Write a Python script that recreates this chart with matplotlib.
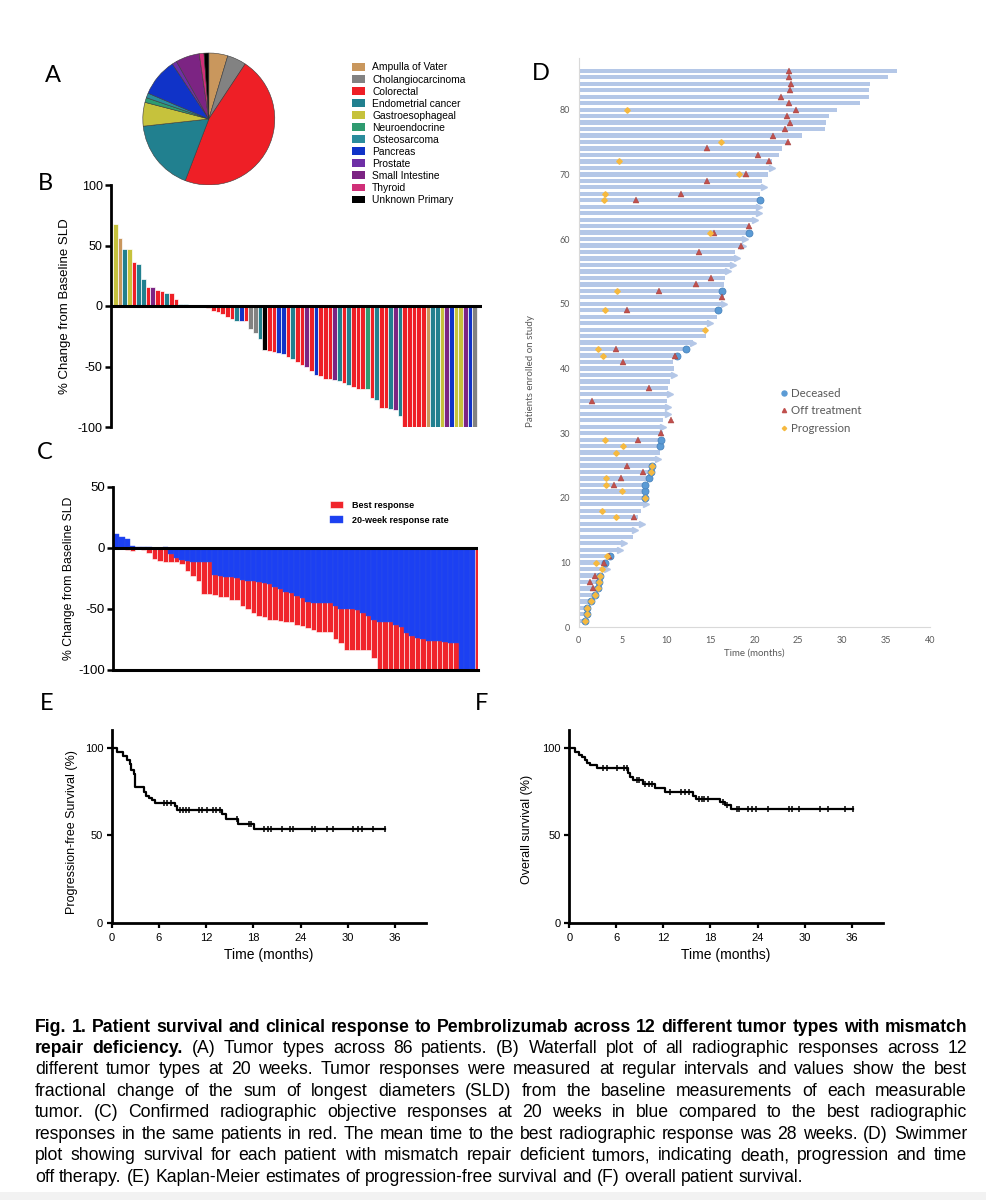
"""Pembrolizumab in mismatch-repair deficient tumours: six-panel summary figure.

A: tumour mix (pie), B: waterfall by tumour type, C: best vs 20-week response,
D: swimmer plot, E/F: Kaplan-Meier progression-free and overall survival.
"""

import matplotlib
matplotlib.use("Agg")
import matplotlib.pyplot as plt
import numpy as np
from matplotlib import font_manager
from matplotlib.lines import Line2D
from matplotlib.patches import Patch, Rectangle

FIG_W, FIG_H = 987, 1200  # pixels, saved at dpi=100

# ---------------------------------------------------------------- panel A
TUMOR_TYPES = ["Ampulla of Vater", "Cholangiocarcinoma", "Colorectal",
               "Endometrial cancer", "Gastroesophageal", "Neuroendocrine",
               "Osteosarcoma", "Pancreas", "Prostate", "Small Intestine",
               "Thyroid", "Unknown Primary"]
TUMOR_CODES = ["AV", "CH", "CR", "EN", "GE", "NE", "OS", "PA", "PR", "SI", "TH", "UP"]
TUMOR_COUNTS = [4, 4, 40, 15, 5, 1, 1, 8, 1, 5, 1, 1]
TUMOR_COLORS = ["#C9975D", "#828282", "#EE1F26", "#21808F", "#C6C23C", "#2F9B70",
                "#2A8C9C", "#1033C8", "#6E2FA6", "#7C2483", "#D02F78", "#000000"]

# ---------------------------------------------------------------- panel B
WATERFALL_TYPE = ["GE", "AV", "EN", "GE", "CR", "EN", "EN", "CR", "SI", "CR",
                  "CR", "EN", "CR", "CR", "EN", "EN", "CR", "CR", "CR", "EN",
                  "CR", "CR", "CR", "CR", "CR", "CR", "EN", "PA", "CR", "CH",
                  "CH", "EN", "UP", "CR", "CR", "PA", "PA", "CR", "EN", "CR",
                  "CR", "SI", "CR", "PA", "CR", "CR", "CR", "SI", "EN", "CR",
                  "EN", "CR", "CR", "CR", "NE", "CR", "EN", "CR", "CR", "EN",
                  "SI", "EN", "CR", "CR", "CR", "CR", "CR", "AV", "EN", "EN",
                  "GE", "SI", "PA", "GE", "GE", "SI", "PA", "CH"]
WATERFALL_PCT = [68, 56, 47, 47, 36, 35, 22, 16, 16, 13,
                 12, 11, 11, 6, 2, 1.5, 1, 1, -1, -0.5,
                 -1.5, -4, -5, -7, -9, -11, -12, -12, -12, -19,
                 -22, -27, -36, -37, -38, -39, -40, -42, -44, -46.5,
                 -48.5, -50, -54, -57, -58, -60, -60, -61, -62, -64,
                 -65, -67, -69, -69, -69, -76, -78, -84.5, -84.5, -85,
                 -86, -91, -100, -100, -100, -100, -100, -100, -100, -100,
                 -100, -100, -100, -100, -100, -100, -100, -100]

# ---------------------------------------------------------------- panel C
BEST_RESPONSE_PCT = [-1, -1, -2, -3, -1, -2, -4, -9, -11, -12,
                     -12, -12, -13, -19, -23, -27, -38, -38, -39, -40,
                     -40, -43, -43, -48, -50, -53, -56, -57, -59, -59,
                     -60, -61, -61, -63, -64, -66, -67.6, -69, -69, -69,
                     -75, -78, -84, -84, -84, -84, -84, -90, -100, -100,
                     -100, -100, -100, -100, -100, -100, -100, -100, -100, -100,
                     -100, -100, -100, -100, -100, -100, -100]
WEEK20_RESPONSE_PCT = [11, 9, 7, 1.5, 1, 1, 0.5, 0, 0, 1,
                       -5, -8, -10, -11, -12, -12, -12, -12, -22, -23,
                       -24, -24, -25, -26, -27, -27, -28, -29, -30, -32,
                       -34, -36, -37, -39.5, -41, -44, -45.5, -45.5, -45.5, -45.5,
                       -48, -50, -50, -50, -51, -53.7, -56, -59, -61, -61,
                       -61, -63, -64.6, -70, -72, -74, -74.7, -76, -76, -76.5,
                       -77.4, -78, -78, -100, -100, -100, 0]

# ---------------------------------------------------------------- panel D
SWIM_MONTHS = [0.8, 0.95, 1.05, 1.4, 1.9, 2.2, 2.35, 2.5, 3.2, 3.1,
               3.6, 4.7, 5.2, 6.2, 6.4, 7.2, 6.8, 7.1, 7.7, 7.65,
               7.6, 7.6, 8.0, 8.3, 8.4, 9.0, 9.3, 9.35, 9.35, 9.55,
               9.6, 9.6, 10.2, 10.2, 10.1, 10.4, 10.15, 10.4, 10.85, 10.85,
               10.7, 11.0, 12.1, 13.05, 14.5, 14.6, 15.0, 15.7, 15.9, 16.5,
               16.5, 16.5, 16.5, 16.7, 17.0, 17.6, 18.0, 17.8, 18.75, 18.9,
               19.5, 19.5, 20.1, 20.5, 20.5, 20.65, 20.7, 21.1, 20.9, 21.5,
               22.0, 22.0, 22.8, 23.2, 23.7, 25.4, 28.0, 28.2, 28.5, 29.4,
               32.0, 33.0, 33.0, 33.2, 35.2, 36.2]
ONGOING_PATIENTS = [9, 12, 13, 15, 16, 19, 26, 31, 33, 34, 36, 39, 44, 47, 50,
                    55, 56, 57, 59, 60, 63, 64, 65, 68, 71]
DECEASED_PATIENT = [1, 2, 3, 4, 5, 6, 7, 8, 10, 11, 20, 21, 22, 23, 24, 25,
                    28, 29, 42, 43, 49, 52, 61, 66]
DECEASED_MONTH = [0.7, 0.9, 1.0, 1.35, 1.85, 2.15, 2.3, 2.45, 3.05, 3.55, 7.6, 7.6,
                  7.6, 8.0, 8.2, 8.4, 9.3, 9.35, 11.15, 12.2, 15.85, 16.3, 19.4, 20.7]
OFF_TX_PATIENT = [6, 7, 8, 10, 11, 17, 22, 23, 24, 25, 29, 30, 32, 35, 37, 41,
                  42, 43, 49, 51, 52, 53, 54, 58, 59, 61, 62, 66, 67, 69, 70,
                  72, 73, 74, 75, 76, 77, 78, 79, 80, 81, 82, 83, 84, 85, 86]
OFF_TX_MONTH = [1.6, 1.3, 1.85, 2.9, 3.4, 6.3, 4.0, 4.85, 7.3, 5.5, 6.8, 9.4,
                10.55, 1.55, 8.0, 5.1, 11.0, 4.25, 5.5, 16.3, 9.2, 13.3, 15.1,
                13.65, 18.45, 15.4, 19.4, 6.5, 11.65, 14.6, 19.0, 21.7, 20.4,
                14.6, 23.8, 22.1, 23.5, 24.1, 23.7, 24.7, 24.0, 23.0, 24.1,
                24.2, 24.0, 23.9]
PROGRESSION_PATIENT = [1, 2, 3, 4, 5, 6, 7, 8, 9, 10, 11, 17, 18, 20, 21, 22,
                       23, 24, 25, 27, 28, 29, 42, 43, 46, 49, 52, 61, 66, 67,
                       70, 72, 75, 80]
PROGRESSION_MONTH = [0.7, 0.9, 1.0, 1.35, 1.85, 2.15, 2.3, 2.45, 2.7, 2.0, 3.25,
                     4.2, 2.6, 7.6, 4.9, 3.1, 3.1, 8.2, 8.4, 4.25, 5.1, 3.0,
                     2.8, 2.15, 14.4, 2.95, 4.35, 14.95, 2.85, 2.95, 18.25, 4.6,
                     16.2, 5.5]

# ---------------------------------------------------------------- panels E, F
PFS_MONTHS = [0, 0.7, 1.4, 2.0, 2.3, 2.5, 2.8, 3.0, 4.1, 4.4, 4.8, 5.1, 5.5,
              8.0, 8.3, 14.0, 14.5, 16.0, 18.1]
PFS_PCT = [100, 97.6, 95.3, 93.0, 90.7, 87.2, 84.9, 77.3, 74.9, 72.6, 71.4,
           70.2, 68.7, 66.6, 64.4, 62.0, 59.3, 56.6, 53.6]
PFS_LAST_MONTH = 34.7
PFS_CENSOR = [6.6, 7.0, 7.6, 8.7, 9.1, 9.5, 9.8, 11.1, 11.5, 12.1, 12.9, 13.3,
              13.8, 15.9, 17.4, 17.7, 19.3, 19.9, 20.2, 21.7, 22.7, 23.1, 25.4,
              25.8, 27.4, 28.1, 30.7, 31.3, 31.8, 33.2, 34.7]

OS_MONTHS = [0, 0.7, 1.2, 1.6, 2.0, 2.3, 2.6, 3.5, 7.5, 7.8, 8.1, 9.4, 10.9,
             12.2, 15.8, 16.2, 19.2, 19.8, 20.6]
OS_PCT = [100, 97.3, 96.0, 94.6, 93.2, 91.0, 89.8, 88.6, 85.7, 83.4, 81.3,
          79.0, 76.8, 74.9, 72.4, 71.0, 69.0, 67.2, 64.8]
OS_LAST_MONTH = 36.2
OS_CENSOR = [4.3, 4.8, 6.1, 7.0, 7.3, 8.6, 8.9, 9.7, 10.1, 10.5, 12.8, 14.2,
             14.8, 15.3, 16.5, 16.9, 17.2, 17.7, 19.6, 20.1, 21.4, 21.7, 22.8,
             23.3, 23.8, 25.4, 28.0, 28.4, 29.3, 32.0, 33.0, 35.2, 36.2]

CAPTION_LINES = [
    "Fig. 1. Patient survival and clinical response to Pembrolizumab across 12 different tumor types with mismatch",
    "repair deficiency. (A) Tumor types across 86 patients. (B) Waterfall plot of all radiographic responses across 12",
    "different tumor types at 20 weeks. Tumor responses were measured at regular intervals and values show the best",
    "fractional change of the sum of longest diameters (SLD) from the baseline measurements of each measurable",
    "tumor. (C) Confirmed radiographic objective responses at 20 weeks in blue compared to the best radiographic",
    "responses in the same patients in red. The mean time to the best radiographic response was 28 weeks. (D) Swimmer",
    "plot showing survival for each patient with mismatch repair deficient tumors, indicating death, progression and time",
    "off therapy. (E) Kaplan-Meier estimates of progression-free survival and (F) overall patient survival.",
]
CAPTION_BOLD_WORDS = [16, 2, 0, 0, 0, 0, 0, 0]

SWIM_BLUE = "#B4C7E7"
D_GREY = "#595959"

plt.rcParams["font.family"] = ["Liberation Sans", "DejaVu Sans"]
plt.rcParams["axes.unicode_minus"] = False
_installed = {f.name for f in font_manager.fontManager.ttflist}
CAPTION_FONT = "Liberation Sans Narrow" if "Liberation Sans Narrow" in _installed else "Liberation Sans"
LETTER_FONT = ["Lato", "DejaVu Sans"]


def axes_px(fig, left, top, right, bottom):
    """Add axes from pixel box (origin top-left)."""
    return fig.add_axes([left / FIG_W, 1 - bottom / FIG_H,
                         (right - left) / FIG_W, (bottom - top) / FIG_H])


def _prism_axes(ax, width=2.0):
    for side in ("top", "right", "bottom"):
        ax.spines[side].set_visible(False)
    ax.spines["left"].set_linewidth(width)


def plot_waterfall(fig):
    ax = axes_px(fig, 111, 185, 482, 427)
    colour_of = dict(zip(TUMOR_CODES, TUMOR_COLORS))
    x = np.arange(len(WATERFALL_PCT))
    ax.bar(x, WATERFALL_PCT, width=1.0, color=[colour_of[c] for c in WATERFALL_TYPE],
           edgecolor="white", linewidth=0.5)
    ax.axhline(0, color="black", lw=2.2, zorder=3)
    ax.set_xlim(-0.93, 78.57)
    ax.set_ylim(-100, 100)
    _prism_axes(ax)
    ax.set_xticks([])
    ax.set_yticks([-100, -50, 0, 50, 100])
    ax.tick_params(axis="y", length=4, width=1.8, pad=2, labelsize=9)
    ax.set_ylabel("% Change from Baseline SLD", fontsize=9.5)
    ax.yaxis.set_label_coords(-0.108, 0.5)


def plot_best_vs_week20(fig):
    ax = axes_px(fig, 113, 486.7, 478, 670)
    x = np.arange(len(BEST_RESPONSE_PCT))
    ax.bar(x, BEST_RESPONSE_PCT, width=1.0, color="#F0252B", edgecolor="white",
           linewidth=0.4, label="Best response")
    ax.bar(x, WEEK20_RESPONSE_PCT, width=1.0, color="#1C40F2", edgecolor="#2E50E8",
           linewidth=0.3, label="20-week response rate")
    ax.axhline(0, color="black", lw=2.2, zorder=3)
    ax.set_xlim(-0.6, 66.0)
    ax.set_ylim(-100, 50)
    for side in ("top", "right"):
        ax.spines[side].set_visible(False)
    ax.spines["left"].set_linewidth(2)
    ax.spines["bottom"].set_linewidth(2.2)
    ax.set_xticks([])
    ax.set_yticks([-100, -50, 0, 50])
    ax.tick_params(axis="y", length=4, width=1.8, pad=2, labelsize=9.5)
    ax.set_ylabel("% Change from Baseline SLD", fontsize=8.8)
    ax.yaxis.set_label_coords(-0.104, 0.5)
    leg = ax.legend(loc="upper left", bbox_to_anchor=(330 / FIG_W, 1 - 501 / FIG_H),
                    bbox_transform=fig.transFigure, frameon=False, fontsize=6.5,
                    handlelength=1.45, handleheight=0.77, handletextpad=1.0,
                    labelspacing=0.65, borderpad=0, borderaxespad=0)
    for t in leg.get_texts():
        t.set_fontweight("bold")


def plot_swimmer(fig):
    ax = axes_px(fig, 578.7, 57.9, 930, 627.3)
    patients = np.arange(1, len(SWIM_MONTHS) + 1)
    months = np.asarray(SWIM_MONTHS)
    ax.barh(patients, months, height=0.66, color=SWIM_BLUE, zorder=1)
    ongoing = np.asarray(ONGOING_PATIENTS)
    ax.plot(months[ongoing - 1], ongoing, ls="none", marker=">", ms=4.2,
            color=SWIM_BLUE, mec=SWIM_BLUE, zorder=1)
    ax.plot(DECEASED_MONTH, DECEASED_PATIENT, ls="none", marker="o", ms=5,
            color="#5B9BD5", mec="#4A84BD", mew=0.6, zorder=2)
    ax.plot(OFF_TX_MONTH, OFF_TX_PATIENT, ls="none", marker="^", ms=3.8,
            color="#C0504D", mec="#A0403D", mew=0.3, zorder=3)
    ax.plot(PROGRESSION_MONTH, PROGRESSION_PATIENT, ls="none", marker="D", ms=2.8,
            color="#F6B93F", mec="#F6B93F", zorder=4)

    ax.set_xlim(0, 40)
    ax.set_ylim(0, 88)
    ax.set_xticks(np.arange(0, 41, 5))
    ax.set_yticks(np.arange(0, 81, 10))
    for side in ("top", "right"):
        ax.spines[side].set_visible(False)
    for side in ("left", "bottom"):
        ax.spines[side].set_color("#D9D9D9")
        ax.spines[side].set_linewidth(0.8)
    ax.tick_params(length=0, labelsize=6.5, labelcolor=D_GREY, pad=6)
    for lab in ax.get_xticklabels() + ax.get_yticklabels():
        lab.set_family(LETTER_FONT)
    ax.set_xlabel("Time (months)", fontsize=7, color=D_GREY, family=LETTER_FONT)
    ax.xaxis.set_label_coords(0.5, -0.038)
    ax.set_ylabel("Patients enrolled on study", fontsize=7, color=D_GREY, family=LETTER_FONT)
    ax.yaxis.set_label_coords(-0.125, 0.45)

    handles = [
        Line2D([], [], ls="none", marker="o", ms=3.6, color="#5B9BD5", label="Deceased"),
        Line2D([], [], ls="none", marker="^", ms=3.0, color="#C0504D", label="Off treatment"),
        Line2D([], [], ls="none", marker="D", ms=2.2, color="#F6B93F", label="Progression"),
    ]
    leg = ax.legend(handles=handles, loc="upper left",
                    bbox_to_anchor=(781 / FIG_W, 1 - 388 / FIG_H),
                    bbox_transform=fig.transFigure, frameon=False,
                    prop={"family": LETTER_FONT, "size": 8.3}, handlelength=0.6,
                    handletextpad=0.25, labelspacing=0.55, borderpad=0,
                    borderaxespad=0)
    for t in leg.get_texts():
        t.set_color(D_GREY)


def plot_km(fig, box, months, pct, last_month, censor, ylabel, ylabel_x, ylabel_y):
    ax = axes_px(fig, *box)
    t = list(months) + [last_month]
    s = list(pct) + [pct[-1]]
    ax.step(t, s, where="post", color="black", lw=1.6)
    idx = np.searchsorted(months, censor, side="right") - 1
    ax.plot(censor, np.asarray(pct)[idx], ls="none", marker="|", ms=5, mew=1.1,
            color="black")
    ax.set_xlim(0, 40)
    ax.set_ylim(0, 110)
    ax.set_xticks(np.arange(0, 37, 6))
    ax.set_yticks([0, 50, 100])
    for side in ("top", "right"):
        ax.spines[side].set_visible(False)
    for side in ("left", "bottom"):
        ax.spines[side].set_linewidth(2)
    ax.tick_params(length=3.6, width=1.6, labelsize=8)
    ax.tick_params(axis="y", pad=2.5)
    ax.tick_params(axis="x", pad=3.5)
    ax.set_xlabel("Time (months)", fontsize=10)
    ax.xaxis.set_label_coords(0.5, -0.13)
    ax.set_ylabel(ylabel, fontsize=9)
    ax.yaxis.set_label_coords(ylabel_x, ylabel_y)
    return ax


def draw_caption(fig):
    renderer = fig.canvas.get_renderer()
    x0, x1 = 35, 967
    base = 10.0
    rows = []
    for line, n_bold in zip(CAPTION_LINES, CAPTION_BOLD_WORDS):
        words = line.split(" ")
        rows.append([fig.text(0, 0, w, fontsize=base, family=CAPTION_FONT,
                              fontweight="bold" if k < n_bold else "normal",
                              va="baseline", ha="left")
                     for k, w in enumerate(words)])

    def space_px(size):
        return 0.278 * size * 100 / 72

    # one font size for every line, chosen so the widest line just fits
    scale = min((x1 - x0) / (sum(t.get_window_extent(renderer).width for t in row)
                             + (len(row) - 1) * space_px(base))
                for row in rows[:-1])
    size = base * scale * 0.99
    for k, row in enumerate(rows):
        y = 1031.5 + 21.45 * k
        for t in row:
            t.set_fontsize(size)
        widths = [t.get_window_extent(renderer).width for t in row]
        if k == len(rows) - 1:
            gap = space_px(size)
        else:
            gap = (x1 - x0 - sum(widths)) / (len(row) - 1)
        x = x0
        for t, w in zip(row, widths):
            t.set_position((x / FIG_W, 1 - y / FIG_H))
            x += w + gap


def main():
    fig = plt.figure(figsize=(FIG_W / 100, FIG_H / 100), dpi=100)

    # A: tumour types
    ax_a = axes_px(fig, 141.5, 51.7, 276.1, 186.3)
    ax_a.pie(TUMOR_COUNTS, colors=TUMOR_COLORS, startangle=90, counterclock=False,
             wedgeprops=dict(edgecolor="#3a3a3a", linewidth=0.4))
    ax_a.set_xlim(-1.02, 1.02)
    ax_a.set_ylim(-1.02, 1.02)
    fig.legend([Patch(facecolor=c, edgecolor="none") for c in TUMOR_COLORS],
               TUMOR_TYPES, loc="upper left",
               bbox_to_anchor=(352.5 / FIG_W, 1 - 62.5 / FIG_H), frameon=False,
               fontsize=7.4, handlelength=1.17, handleheight=0.8,
               handletextpad=0.75, labelspacing=0.2, borderpad=0, borderaxespad=0)

    plot_waterfall(fig)
    plot_best_vs_week20(fig)
    plot_swimmer(fig)
    plot_km(fig, (111.7, 730, 426.4, 923.3), PFS_MONTHS, PFS_PCT, PFS_LAST_MONTH,
            PFS_CENSOR, "Progression-free Survival (%)", -0.108, 0.47)
    plot_km(fig, (569.3, 730, 883.0, 923.3), OS_MONTHS, OS_PCT, OS_LAST_MONTH,
            OS_CENSOR, "Overall survival (%)", -0.117, 0.485)

    for letter, (px, py) in {"A": (53, 75), "B": (45, 183), "C": (45, 453),
                             "D": (541, 73), "E": (47, 704), "F": (482, 704)}.items():
        fig.text(px / FIG_W, 1 - py / FIG_H, letter, fontsize=17, family=LETTER_FONT,
                 ha="center", va="center")

    draw_caption(fig)
    fig.patches.append(Rectangle((0, 0), 1, 8 / FIG_H, transform=fig.transFigure,
                                 facecolor="#F2F2F2", edgecolor="none"))

    fig.savefig("out.png", dpi=100)


if __name__ == "__main__":
    main()
